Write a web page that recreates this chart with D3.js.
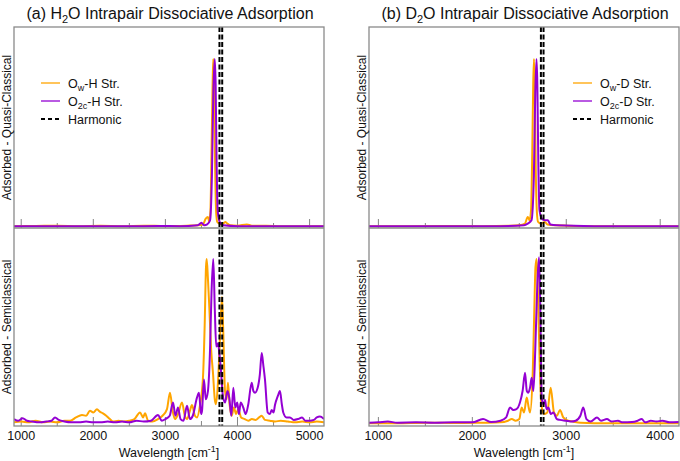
<!DOCTYPE html>
<html><head><meta charset="utf-8">
<script src="https://cdn.jsdelivr.net/npm/d3@7"></script>
<style>body{margin:0;background:#fff}svg{display:block}text{font-family:"Liberation Sans",Arial,sans-serif;fill:#111}</style>
</head><body><svg id="c" width="680" height="461"></svg>
<script>
// ---- data (wavenumber cm^-1, relative intensity) ----
const xTicksA = [1000, 2000, 3000, 4000, 5000];
const xTicksB = [1000, 2000, 3000, 4000];
const harmonicH2O = [3750, 3788];
const harmonicD2O = [2730, 2758];

const qcA_OwH = [[900,0.005],[1200,0.006],[1500,0.008],[1800,0.005],[2100,0.007],[2400,0.005],[2700,0.008],[3000,0.006],[3300,0.008],[3450,0.01],[3520,0.015],[3560,0.05],[3590,0.06],[3608,0.03],[3625,0.1],[3640,0.45],[3655,0.85],[3664,1.0],[3675,0.85],[3690,0.35],[3705,0.08],[3720,0.03],[3750,0.02],[3790,0.015],[3830,0.03],[3860,0.02],[3900,0.01],[4000,0.008],[4130,0.015],[4200,0.008],[4400,0.008],[4600,0.005],[5000,0.005],[5200,0.005]];
const qcA_O2cH = [[900,0.004],[1300,0.005],[1700,0.004],[2100,0.005],[2500,0.004],[2900,0.006],[3200,0.005],[3450,0.01],[3500,0.025],[3540,0.01],[3580,0.015],[3620,0.04],[3645,0.3],[3665,0.8],[3684,1.0],[3697,0.85],[3710,0.4],[3725,0.1],[3745,0.04],[3770,0.02],[3800,0.01],[4000,0.005],[4400,0.005],[4800,0.004],[5200,0.004]];
const scA_OwH = [[900,0.01],[1000,0.015],[1100,0.01],[1200,0.02],[1300,0.01],[1400,0.015],[1500,0.01],[1600,0.02],[1680,0.02],[1760,0.04],[1843,0.055],[1900,0.05],[1954,0.08],[2000,0.07],[2051,0.09],[2090,0.075],[2134,0.065],[2180,0.05],[2230,0.03],[2273,0.015],[2350,0.02],[2420,0.015],[2500,0.02],[2570,0.03],[2648,0.07],[2690,0.04],[2717,0.065],[2760,0.02],[2820,0.015],[2897,0.03],[2960,0.05],[3022,0.09],[3064,0.19],[3100,0.08],[3133,0.03],[3175,0.06],[3230,0.13],[3270,0.05],[3300,0.03],[3340,0.08],[3369,0.115],[3410,0.05],[3438,0.04],[3480,0.115],[3521,0.28],[3545,0.6],[3563,0.95],[3573,1.0],[3590,0.88],[3609,0.71],[3635,0.45],[3660,0.31],[3685,0.15],[3702,0.12],[3729,0.25],[3760,0.55],[3785,0.77],[3800,0.6],[3827,0.2],[3850,0.15],[3868,0.25],[3890,0.12],[3920,0.05],[3950,0.1],[3980,0.06],[4010,0.09],[4050,0.04],[4100,0.03],[4150,0.02],[4200,0.03],[4250,0.025],[4300,0.04],[4336,0.05],[4380,0.025],[4450,0.02],[4520,0.015],[4600,0.02],[4700,0.015],[4800,0.01],[4900,0.015],[5000,0.01],[5100,0.015],[5200,0.01]];
const scA_O2cH = [[900,0.03],[960,0.02],[1020,0.035],[1080,0.02],[1150,0.015],[1250,0.01],[1350,0.015],[1420,0.02],[1469,0.04],[1520,0.025],[1600,0.015],[1700,0.01],[1800,0.01],[1900,0.015],[2000,0.01],[2100,0.01],[2200,0.015],[2300,0.01],[2400,0.015],[2500,0.01],[2600,0.02],[2700,0.015],[2800,0.02],[2897,0.055],[2950,0.02],[3000,0.03],[3060,0.05],[3105,0.13],[3140,0.05],[3175,0.1],[3210,0.03],[3250,0.02],[3300,0.11],[3340,0.03],[3380,0.05],[3438,0.16],[3466,0.19],[3495,0.06],[3508,0.08],[3535,0.27],[3560,0.15],[3590,0.2],[3619,0.45],[3640,0.8],[3664,1.0],[3685,0.7],[3705,0.47],[3730,0.49],[3750,0.42],[3770,0.33],[3795,0.18],[3827,0.13],[3860,0.2],[3886,0.16],[3915,0.05],[3942,0.22],[3970,0.1],[3997,0.13],[4020,0.06],[4044,0.13],[4080,0.1],[4114,0.06],[4150,0.12],[4197,0.25],[4220,0.2],[4243,0.19],[4280,0.22],[4310,0.3],[4336,0.43],[4360,0.35],[4381,0.27],[4419,0.07],[4450,0.06],[4474,0.085],[4500,0.07],[4520,0.115],[4560,0.17],[4589,0.2],[4615,0.12],[4635,0.07],[4680,0.04],[4728,0.04],[4780,0.025],[4840,0.03],[4895,0.04],[4940,0.02],[5000,0.02],[5060,0.025],[5100,0.04],[5144,0.045],[5200,0.03]];

const qcB_OwD = [[900,0.005],[1300,0.005],[1700,0.006],[2100,0.005],[2400,0.007],[2500,0.01],[2560,0.02],[2590,0.06],[2610,0.04],[2625,0.1],[2638,0.45],[2648,0.85],[2656,1.0],[2664,0.85],[2675,0.35],[2688,0.08],[2700,0.03],[2730,0.02],[2770,0.03],[2800,0.015],[2900,0.01],[3000,0.008],[3400,0.005],[3800,0.005],[4200,0.005]];
const qcB_O2cD = [[900,0.004],[1400,0.005],[1900,0.004],[2300,0.005],[2550,0.01],[2590,0.02],[2630,0.04],[2655,0.3],[2670,0.8],[2683,1.0],[2692,0.85],[2702,0.4],[2715,0.1],[2740,0.05],[2770,0.04],[2805,0.04],[2830,0.015],[2900,0.01],[3300,0.005],[3800,0.004],[4200,0.004]];
const scB_OwD = [[900,0.005],[1200,0.005],[1500,0.008],[1800,0.006],[2100,0.008],[2300,0.01],[2380,0.02],[2420,0.03],[2460,0.02],[2500,0.03],[2525,0.1],[2550,0.07],[2579,0.16],[2600,0.1],[2614,0.07],[2643,0.31],[2660,0.7],[2672,0.95],[2685,1.0],[2702,0.71],[2718,0.35],[2735,0.12],[2760,0.06],[2798,0.07],[2834,0.22],[2869,0.07],[2900,0.05],[2933,0.085],[2968,0.04],[3020,0.02],[3070,0.015],[3150,0.008],[3300,0.005],[3700,0.005],[4200,0.005]];
const scB_O2cD = [[900,0.008],[1000,0.01],[1100,0.015],[1200,0.008],[1400,0.01],[1600,0.008],[1800,0.01],[2000,0.01],[2114,0.03],[2200,0.012],[2300,0.02],[2360,0.04],[2401,0.1],[2436,0.085],[2470,0.09],[2507,0.13],[2535,0.2],[2561,0.31],[2580,0.2],[2596,0.19],[2614,0.22],[2632,0.28],[2650,0.2],[2670,0.45],[2692,0.85],[2710,1.01],[2722,0.75],[2738,0.16],[2755,0.12],[2774,0.145],[2790,0.09],[2809,0.1],[2835,0.06],[2862,0.07],[2900,0.03],[2933,0.025],[3000,0.02],[3050,0.015],[3100,0.02],[3150,0.05],[3181,0.1],[3215,0.03],[3260,0.015],[3327,0.04],[3370,0.02],[3433,0.03],[3480,0.015],[3550,0.02],[3600,0.01],[3700,0.012],[3760,0.02],[3803,0.03],[3840,0.01],[3900,0.02],[3960,0.015],[4023,0.02],[4100,0.01],[4200,0.012]];

const ORANGE = "#FFA500", PURPLE = "#9400D3", FRAME = "#8a8a8a";

(function () {
const svg = d3.select("#c");

const panels = [
  {id:"a", left:14, right:324, domain:[900,5200], ticks:xTicksA, harm:harmonicH2O,
   title:["(a) H","2","O Intrapair Dissociative Adsorption"], X:"H",
   qc:[qcA_OwH,qcA_O2cH], sc:[scA_OwH,scA_O2cH], legX:41},
  {id:"b", left:369, right:679, domain:[900,4200], ticks:xTicksB, harm:harmonicD2O,
   title:["(b) D","2","O Intrapair Dissociative Adsorption"], X:"D",
   qc:[qcB_OwD,qcB_O2cD], sc:[scB_OwD,scB_O2cD], legX:573}
];
const pTop = 27, pMid = 228, pBot = 426;

panels.forEach(p => {
  const g = svg.append("g");
  const x = d3.scaleLinear().domain(p.domain).range([p.left, p.right]);
  const yTop = d3.scaleLinear().domain([-0.006, 1.19]).range([pMid, pTop]);
  const yBot = d3.scaleLinear().domain([-0.012, 1.188]).range([pBot, pMid]);

  const cid = "clip" + p.id;
  svg.append("clipPath").attr("id", cid).append("rect")
    .attr("x", p.left).attr("y", pTop).attr("width", p.right - p.left).attr("height", pBot - pTop);

  const allTicks = d3.range(1000, p.domain[1] + 1, 500);
  [pMid, pBot].forEach(yb => {
    g.selectAll(null).data(allTicks).enter().append("line")
      .attr("x1", d => x(d)).attr("x2", d => x(d))
      .attr("y1", yb).attr("y2", d => yb - (d % 1000 === 0 ? 9 : 5))
      .attr("stroke", "#666").attr("stroke-width", 0.8);
  });

  const line = (ys) => d3.line().x(d => x(d[0])).y(d => ys(d[1])).curve(d3.curveMonotoneX);
  const cg = g.append("g").attr("clip-path", `url(#${cid})`);
  [[p.qc, yTop], [p.sc, yBot]].forEach(([series, ys]) => {
    cg.append("path").datum(series[0]).attr("d", line(ys)).attr("fill", "none")
      .attr("stroke", ORANGE).attr("stroke-width", 2).attr("stroke-linejoin", "round");
    cg.append("path").datum(series[1]).attr("d", line(ys)).attr("fill", "none")
      .attr("stroke", PURPLE).attr("stroke-width", 2).attr("stroke-linejoin", "round");
  });
  p.harm.forEach(h => {
    cg.append("line").attr("x1", x(h)).attr("x2", x(h)).attr("y1", pTop).attr("y2", pBot)
      .attr("stroke", "#000").attr("stroke-width", 2).attr("stroke-dasharray", "5,2.5");
  });

  g.append("rect").attr("x", p.left).attr("y", pTop).attr("width", p.right - p.left).attr("height", pBot - pTop)
    .attr("fill", "none").attr("stroke", FRAME).attr("stroke-width", 1.3);
  g.append("line").attr("x1", p.left).attr("x2", p.right).attr("y1", pMid).attr("y2", pMid)
    .attr("stroke", FRAME).attr("stroke-width", 1.3);

  g.selectAll(null).data(p.ticks).enter().append("text")
    .attr("x", d => x(d)).attr("y", 440).attr("text-anchor", "middle")
    .attr("font-size", 12.5).text(d => d);

  const xl = g.append("text").attr("x", (p.left + p.right) / 2).attr("y", 457)
    .attr("text-anchor", "middle").attr("font-size", 12.5);
  xl.append("tspan").text("Wavelength [cm");
  xl.append("tspan").attr("font-size", 9).attr("dy", -5).text("-1");
  xl.append("tspan").attr("dy", 5).text("]");

  const t = g.append("text").attr("x", (p.left + p.right) / 2 + 1).attr("y", 19)
    .attr("text-anchor", "middle").attr("font-size", 16);
  t.append("tspan").text(p.title[0]);
  t.append("tspan").attr("font-size", 11).attr("dy", 4).text(p.title[1]);
  t.append("tspan").attr("dy", -4).text(p.title[2]);

  const ylx = p.left - 3;
  g.append("text").attr("transform", `translate(${ylx},${(pTop + pMid) / 2}) rotate(-90)`)
    .attr("text-anchor", "middle").attr("font-size", 12).text("Adsorbed - Quasi-Classical");
  g.append("text").attr("transform", `translate(${ylx},${(pMid + pBot) / 2}) rotate(-90)`)
    .attr("text-anchor", "middle").attr("font-size", 12).text("Adsorbed - Semiclassical");

  const leg = [
    {c: ORANGE, sub: "w", dash: null},
    {c: PURPLE, sub: "2c", dash: null},
    {c: "#000", sub: null, dash: "4,3"}
  ];
  leg.forEach((L, i) => {
    const ly = 83 + i * 18;
    g.append("line").attr("x1", p.legX).attr("x2", p.legX + 19).attr("y1", ly).attr("y2", ly)
      .attr("stroke", L.c).attr("stroke-width", L.dash ? 2 : 1.3).attr("stroke-dasharray", L.dash);
    const tx = g.append("text").attr("x", p.legX + 27).attr("y", ly + 4.5).attr("font-size", 12.5);
    if (L.sub) {
      tx.append("tspan").text("O");
      tx.append("tspan").attr("font-size", 9).attr("dy", 3).text(L.sub);
      tx.append("tspan").attr("dy", -3).text("-" + p.X + " Str.");
    } else {
      tx.text("Harmonic");
    }
  });
});
})();
</script></body></html>
